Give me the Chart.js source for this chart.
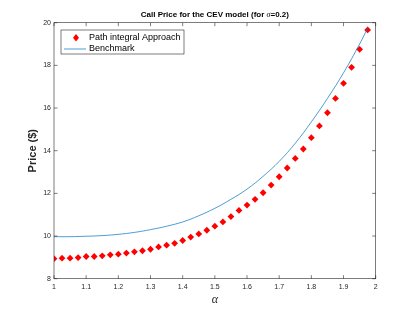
<!DOCTYPE html>
<html>
<head>
<meta charset="utf-8">
<script src="https://cdn.jsdelivr.net/npm/chart.js@4.4.1/dist/chart.umd.min.js"></script>
<style>
  html, body { margin: 0; padding: 0; background: #fff; }
  #wrap { width: 415px; height: 312px; position: relative; }
</style>
</head>
<body>
<div id="wrap"><canvas id="chart"></canvas></div>
<script>
// path integral approach, one diamond every 0.025 in alpha
const alpha = [1, 1.025, 1.05, 1.075, 1.1, 1.125, 1.15, 1.175, 1.2, 1.225,
	1.25, 1.275, 1.3, 1.325, 1.35, 1.375, 1.4, 1.425, 1.45, 1.475,
	1.5, 1.525, 1.55, 1.575, 1.6, 1.625, 1.65, 1.675, 1.7, 1.725,
	1.75, 1.775, 1.8, 1.825, 1.85, 1.875, 1.9, 1.925, 1.95, 1.975];
const pathPrice = [8.94, 8.96, 8.96, 8.99, 9.04, 9.04, 9.07, 9.12, 9.15, 9.20,
	9.26, 9.31, 9.38, 9.49, 9.57, 9.66, 9.79, 9.95, 10.10, 10.27,
	10.46, 10.66, 10.91, 11.20, 11.45, 11.72, 12.03, 12.39, 12.78, 13.19,
	13.64, 14.08, 14.61, 15.16, 15.78, 16.45, 17.16, 17.91, 18.75, 19.66];

// benchmark curve
const benchAlpha = [1, 1.05, 1.1, 1.15, 1.2, 1.25, 1.3, 1.35, 1.4, 1.45,
	1.5, 1.55, 1.6, 1.65, 1.7, 1.75, 1.8, 1.85, 1.9, 1.95, 1.975];
const benchPrice = [9.97, 9.97, 9.99, 10.02, 10.08, 10.17, 10.30, 10.46, 10.66, 10.95,
	11.30, 11.72, 12.20, 12.80, 13.50, 14.35, 15.35, 16.45, 17.65, 19.00, 19.75];

const xMin = 1, xMax = 2, xStep = 0.1;
const yMin = 8, yMax = 20, yStep = 2;

const axisColor = "#262626";
const fontSans = "'Liberation Sans', Arial, sans-serif";

// box with inward ticks on all four sides, plus title, axis labels and legend
const matlabAxes = {
	id: "matlabAxes",
	afterDraw(chart) {
		const ctx = chart.ctx;
		const a = chart.chartArea;
		const xs = chart.scales.x, ys = chart.scales.y;
		ctx.save();
		ctx.strokeStyle = axisColor;
		ctx.lineWidth = 0.6;
		ctx.strokeRect(a.left, a.top, a.right - a.left, a.bottom - a.top);
		ctx.beginPath();
		xs.ticks.forEach(t => {
			const px = xs.getPixelForValue(t.value);
			ctx.moveTo(px, a.bottom); ctx.lineTo(px, a.bottom - 3.5);
			ctx.moveTo(px, a.top); ctx.lineTo(px, a.top + 3.5);
		});
		ys.ticks.forEach(t => {
			const py = ys.getPixelForValue(t.value);
			ctx.moveTo(a.left, py); ctx.lineTo(a.left + 3.5, py);
			ctx.moveTo(a.right, py); ctx.lineTo(a.right - 3.5, py);
		});
		ctx.stroke();

		// title
		ctx.fillStyle = "#000";
		ctx.textBaseline = "middle";
		const cx = (a.left + a.right) / 2;
		const p1 = "Call Price for the CEV model (for ";
		const p2 = "\u03c3";
		const p3 = "=0.2)";
		const fb = "bold 8px " + fontSans;
		const fi = "italic 8px 'Liberation Serif', serif";
		ctx.font = fb; const w1 = ctx.measureText(p1).width, w3 = ctx.measureText(p3).width;
		ctx.font = fi; const w2 = ctx.measureText(p2).width;
		let tx = cx - (w1 + w2 + w3) / 2;
		ctx.textAlign = "left";
		ctx.font = fb; ctx.fillText(p1, tx, 15); tx += w1;
		ctx.font = fi; ctx.fillText(p2, tx, 15); tx += w2;
		ctx.font = fb; ctx.fillText(p3, tx, 15);

		// x axis label
		ctx.textAlign = "center";
		ctx.font = "italic 12px 'Liberation Serif', serif";
		ctx.fillStyle = axisColor;
		ctx.fillText("\u03b1", cx, 300);

		// y axis label
		ctx.save();
		ctx.translate(33, (a.top + a.bottom) / 2);
		ctx.rotate(-Math.PI / 2);
		ctx.font = "bold 11px " + fontSans;
		ctx.fillText("Price ($)", 0, 0);
		ctx.restore();

		// legend
		const d0 = chart.data.datasets[0], d1 = chart.data.datasets[1];
		ctx.fillStyle = "#fff";
		ctx.fillRect(61, 30, 123, 24);
		ctx.strokeStyle = axisColor;
		ctx.lineWidth = 0.6;
		ctx.strokeRect(61, 30, 123, 24);
		ctx.fillStyle = d0.pointBackgroundColor;
		ctx.beginPath();
		ctx.moveTo(76, 34); ctx.lineTo(79, 37.7); ctx.lineTo(76, 41.4); ctx.lineTo(73, 37.7);
		ctx.closePath(); ctx.fill();
		ctx.strokeStyle = d1.borderColor;
		ctx.lineWidth = d1.borderWidth;
		ctx.beginPath(); ctx.moveTo(64, 49); ctx.lineTo(86, 49); ctx.stroke();
		ctx.fillStyle = "#000";
		ctx.textAlign = "left";
		ctx.font = "9px " + fontSans;
		ctx.fillText(d0.label, 89, 38);
		ctx.fillText(d1.label, 89, 49);
		ctx.restore();
	}
};

const data = {
	datasets: [
		{
			label: "Path integral Approach",
			data: alpha.map((x, i) => ({ x: x, y: pathPrice[i] })),
			showLine: false,
			pointStyle: "rectRot",
			pointRadius: 3.4,
			pointBorderWidth: 0,
			pointBackgroundColor: "#ff0000",
			pointBorderColor: "#ff0000",
			order: 1,
		},
		{
			label: "Benchmark",
			data: benchAlpha.map((x, i) => ({ x: x, y: benchPrice[i] })),
			showLine: true,
			borderColor: "rgb(0, 114, 189)",
			borderWidth: 0.7,
			pointRadius: 0,
			tension: 0.4,
			order: 0,
		},
	],
};

const config = {
	type: "scatter",
	data: data,
	options: {
		responsive: true,
		maintainAspectRatio: false,
		animation: false,
		layout: { padding: { left: 0, right: 39.3, top: 22.7, bottom: 0 } },
		scales: {
			x: {
				type: "linear",
				min: xMin, max: xMax,
				afterFit: s => { s.height = 33.3; },
				grid: { display: false, drawTicks: false },
				border: { display: false },
				ticks: {
					stepSize: xStep,
					padding: 4,
					color: axisColor,
					font: { size: 7, family: fontSans },
					callback: v => String(Math.round(v * 10) / 10),
				},
			},
			y: {
				min: yMin, max: yMax,
				afterFit: s => { s.width = 54; },
				grid: { display: false, drawTicks: false },
				border: { display: false },
				ticks: {
					stepSize: yStep,
					padding: 3,
					color: axisColor,
					font: { size: 7, family: fontSans },
				},
			},
		},
		plugins: {
			legend: { display: false },
			tooltip: { enabled: false },
		},
	},
	plugins: [matlabAxes],
};

new Chart(document.getElementById("chart"), config);
</script>
</body>
</html>
